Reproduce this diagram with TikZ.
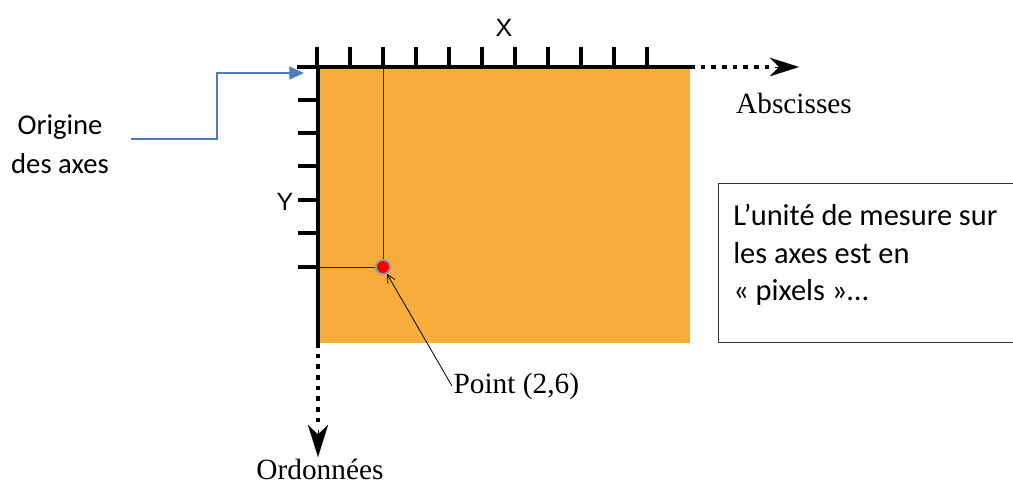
\documentclass[tikz,border=0pt]{standalone}
\usepackage{fontspec}
\setmainfont{Liberation Serif}
\newfontfamily\calfont{Carlito}
\newfontfamily\arifont{Liberation Sans}
\usetikzlibrary{arrows.meta}
\definecolor{orangefill}{HTML}{F8AC3C}
\definecolor{officeblue}{HTML}{4A7EBB}
\definecolor{ptborder}{HTML}{8A9AAA}
\tikzset{
  axisline/.style={line width=3pt, black},
  tickline/.style={line width=2.8pt, black},
  dotline/.style={line width=3pt, dash pattern=on 3.5pt off 4.5pt, black},
  guide/.style={line width=0.6pt, black!85},
  seriflbl/.style={font=\fontsize{22}{26}\selectfont, inner sep=1pt},
  sanslbl/.style={font=\arifont\fontsize{18.75}{22}\selectfont, inner sep=0pt},
  callbl/.style={font=\calfont\fontsize{21.5}{29.25}\selectfont, inner sep=0pt},
  blueconn/.style={line width=2pt, officeblue, -{Triangle[length=11pt,width=9.5pt]}},
}
\begin{document}
\begin{tikzpicture}[x=0.75pt,y=-0.75pt]
\clip (0,0) rectangle (1013,492);
% orange area
\fill[orangefill] (318,67) rectangle (690,343);
% guides to point
\coordinate (gv) at (383,67);
\coordinate (gh) at (318,267);
\node[circle, fill=red, draw=ptborder, line width=1.3pt, minimum size=10.5pt, inner sep=0pt] (pt) at (383,267) {};
\draw[guide] (gv) -- (pt.north);
\draw[guide] (gh) -- (pt.west);
% axes
\coordinate (ox) at (297,67);
\coordinate (xe) at (690,67);
\coordinate (xt) at (799,67);
\coordinate (oy) at (318,67);
\coordinate (ye) at (318,343);
\coordinate (yt) at (318,457);
\draw[axisline] (ox) -- (xe);
\draw[axisline, line width=3.3pt] (oy) -- (ye);
\draw[dotline] (xe) -- ++(80,0);
\draw[-{Stealth[length=22pt,width=14pt,inset=7pt]}, line width=0.1pt] (775,67) -- (xt);
\draw[dotline] (ye) -- ++(0,80);
\draw[-{Stealth[length=24pt,width=15pt,inset=7pt]}, line width=0.1pt] (318,430) -- (yt);
% ticks
\foreach \i in {0,...,10} {
  \draw[tickline] (317+33*\i,47) -- (317+33*\i,67);
}
\foreach \yy in {100,133,166,200,233,267} {
  \draw[tickline] (298,\yy) -- (318,\yy);
}
% labels
\node[sanslbl] (xl) at (504,28) {X};
\node[sanslbl] (yl) at (285,202) {Y};
\node[seriflbl] (abs) at (794,103) {Abscisses};
\node[seriflbl] (ord) at (320,469) {Ordonnées};
\node[seriflbl, anchor=west] (plbl) at (452,386) {Point (2,6)};
\draw[line width=0.6pt, -{Straight Barb[length=6pt,width=6pt]}] (plbl.west) -- (pt);
% origin label
\node[callbl, align=center] (orig) at (60,144) {Origine\\des axes};
\coordinate (bs) at (131,139);
\coordinate (bo) at (304,73);
\draw[blueconn] (bs) -- (217,139) |- (bo);
% info box
\node[draw, line width=0.8pt, black!80, anchor=north west, minimum width=240pt, minimum height=119.25pt, inner sep=0pt] (box) at (718,183) {};
\node[anchor=north west, align=left, inner sep=0pt, font=\calfont\fontsize{22.8}{28}\selectfont] (boxtxt) at (733,204) {L’unité de mesure sur\\les axes est en\\« pixels »…};
\end{tikzpicture}
\end{document}
